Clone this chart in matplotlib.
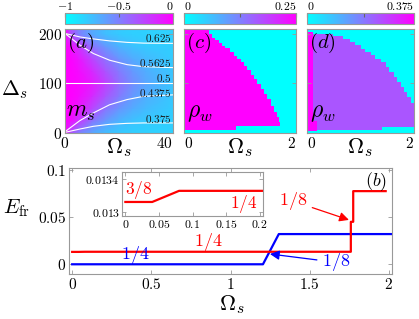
import matplotlib
matplotlib.use("Agg")
import matplotlib.pyplot as plt
from matplotlib import cm
from matplotlib.colors import Normalize

plt.rcParams["mathtext.fontset"] = "cm"
plt.rcParams["font.family"] = "serif"

W, H = 419.0, 319.0
GRAY = "0.6"
cmap = plt.get_cmap("cool")

# ---- panel (a): m_s read on a coarse (Delta_s, Omega_s) grid
omega_a = [0, 2, 5, 10, 15, 20, 25, 30, 40]
delta_a = [0, 25, 50, 75, 100, 125, 150, 175, 200, 210]
m_s = [
    [0, -0.30, -0.50, -0.66, -0.75, -0.79, -0.81, -0.82, -0.82],
    [0, -0.04, -0.20, -0.45, -0.60, -0.70, -0.76, -0.79, -0.81],
    [0, -0.01, -0.08, -0.27, -0.45, -0.58, -0.67, -0.73, -0.80],
    [0, 0.00, -0.04, -0.16, -0.33, -0.48, -0.60, -0.68, -0.78],
    [0, 0.00, -0.02, -0.10, -0.25, -0.42, -0.55, -0.65, -0.77],
    [0, 0.00, -0.04, -0.16, -0.33, -0.48, -0.60, -0.68, -0.78],
    [0, -0.01, -0.08, -0.27, -0.45, -0.58, -0.67, -0.73, -0.80],
    [0, -0.04, -0.20, -0.45, -0.60, -0.70, -0.76, -0.79, -0.81],
    [0, -0.30, -0.50, -0.66, -0.75, -0.79, -0.81, -0.82, -0.82],
    [0, -0.30, -0.50, -0.66, -0.75, -0.79, -0.81, -0.82, -0.82],
]

# white contour lines in (a)
omega_cont = [0, 5.5, 10.5, 16.5, 23, 29, 40]
cont_lines = [
    [201, 194, 190, 186, 183, 181.5, 181],      # 0.625
    [201, 177.5, 160.5, 147, 138, 134, 132],    # 0.5625
    [100, 100, 100, 100, 100, 100, 100],        # 0.5
    [2.6, 25, 40.5, 57, 67.5, 74, 77],          # 0.4375
    [1.3, 8, 13.5, 17.5, 19.5, 20.3, 20.3],     # 0.375
]
cont_labels = ["0.625", "0.5625", "0.5", "0.4375", "0.375"]
cont_label_delta = [192, 141, 112, 81, 28]

# ---- panel (c): rho_w, magenta region (rho_w = 0.25), cyan elsewhere
omega_c = [0, 0.45, 0.498, 0.559, 0.619, 0.679, 0.739, 0.829, 0.889, 0.93, 0.949,
           1.009, 1.069, 1.129, 1.189, 1.249, 1.309, 1.369, 1.429, 1.489, 1.55,
           1.61, 1.658, 1.688, 1.72]
top_c = [210, 200, 191, 187.6, 180.9, 176.1, 170.7, 163.9, 155.8, 155.8, 150.4,
         143.6, 135.5, 126.7, 117.9, 109.7, 99.6, 89.4, 79.3, 67.7, 55.5,
         43.4, 31.8, 21.7, 21.7]
bottom_c = [6, 6, 6, 6, 6, 6, 6, 6, 6, 15, 15,
            15, 15, 15, 15, 15, 15, 15, 15, 15, 15,
            15, 15, 15, 15]

# ---- panel (d): rho_w, purple region (0.25), magenta strip (0.375)
omega_d = [0.12, 0.49, 0.68, 0.81, 0.90, 1.00, 1.09, 1.19, 1.28, 1.38, 1.40,
           1.47, 1.53, 1.62, 1.69, 1.75, 1.81, 1.87, 1.94, 2.0]
top_d = [200, 195, 189, 184, 177, 170, 164, 157, 150, 143, 143,
         133, 123, 113, 103, 92, 82, 72, 61, 61]
bottom_d = [6, 6, 6, 6, 6, 6, 6, 6, 6, 6, 12, 12, 12, 12, 12, 12, 12, 12, 12, 12]
omega_strip = [0, 0.12, 0.18]
top_strip = [203, 25, 25]
bottom_strip = [5, 5, 5]

# ---- panel (b): E_fr against Omega_s
red_omega = [0, 0.04, 0.08, 1.76, 1.76, 1.775, 1.775, 1.98]
red_e = [0.013119, 0.013119, 0.013253, 0.013253, 0.045, 0.045, 0.0775, 0.0775]
blue_omega = [0, 1.205, 1.305, 2.05]
blue_e = [0, 0, 0.032, 0.032]


def box(x0, y0, x1, y1):
    return [x0 / W, 1 - y1 / H, (x1 - x0) / W, (y1 - y0) / H]


def style(ax, size):
    for s in ax.spines.values():
        s.set_edgecolor(GRAY)
    ax.tick_params(direction="in", length=3, width=0.6, color=GRAY,
                   labelsize=size, pad=2, top=True, right=True)


def colorbar(rect, vmin, vmax, ticks, labels, has):
    cax = fig.add_axes(rect)
    sm = cm.ScalarMappable(norm=Normalize(vmin, vmax), cmap=cmap)
    cb = fig.colorbar(sm, cax=cax, orientation="horizontal")
    cax.xaxis.set_ticks_position("top")
    cb.set_ticks(ticks)
    cb.set_ticklabels(labels)
    cb.outline.set_edgecolor(GRAY)
    cax.tick_params(direction="in", length=3, color="0.4", labelsize=8.5, pad=0.2)
    for t, ha in zip(cax.get_xticklabels(), has):
        t.set_ha(ha)


fig = plt.figure(figsize=(4.19, 3.19), dpi=100)

# (a)
ax_a = fig.add_axes(box(65, 29, 173, 133))
ax_a.pcolormesh(omega_a, delta_a, m_s, shading="gouraud", cmap=cmap, vmin=-1, vmax=0)
for d_line, lab, ly in zip(cont_lines, cont_labels, cont_label_delta):
    ax_a.plot(omega_cont, d_line, color="white", lw=0.8)
    ax_a.text(39.5, ly, "$%s$" % lab, fontsize=8, ha="right", va="center", color="0.1")
ax_a.set_xlim(0, 40)
ax_a.set_ylim(0, 210)
ax_a.set_xticks([0, 40])
ax_a.set_xticklabels(["$0$", "$40$"])
ax_a.set_yticks([0, 100, 200])
ax_a.set_yticklabels(["$0$", "$100$", "$200$"])
style(ax_a, 11)
ax_a.get_xticklabels()[1].set_ha("right")
ax_a.text(0.02, 0.98, "$(a)$", transform=ax_a.transAxes, fontsize=15, va="top")
ax_a.text(0.01, 0.15, "$m_s$", transform=ax_a.transAxes, fontsize=17, va="baseline")

# (c)
ax_c = fig.add_axes(box(184, 29, 296, 133))
ax_c.set_facecolor(cmap(0.0))
ax_c.fill_between(omega_c, bottom_c, top_c, step="post", color=cmap(1.0), lw=0)
ax_c.text(0.02, 0.98, "$(c)$", transform=ax_c.transAxes, fontsize=15, va="top")
ax_c.text(0.03, 0.15, r"$\rho_w$", transform=ax_c.transAxes, fontsize=17, va="baseline")

# (d)
ax_d = fig.add_axes(box(307, 29, 414, 133))
ax_d.set_facecolor(cmap(0.0))
ax_d.fill_between(omega_d, bottom_d, top_d, step="post", color=cmap(0.25 / 0.375), lw=0)
ax_d.fill_between(omega_strip, bottom_strip, top_strip, step="post", color=cmap(1.0), lw=0)
ax_d.text(0.02, 0.98, "$(d)$", transform=ax_d.transAxes, fontsize=15, va="top")
ax_d.text(0.03, 0.15, r"$\rho_w$", transform=ax_d.transAxes, fontsize=17, va="baseline")

for ax in (ax_c, ax_d):
    ax.set_xlim(0, 2)
    ax.set_ylim(0, 210)
    ax.set_xticks([0, 2])
    ax.set_xticklabels(["$0$", "$2$"])
    ax.set_yticks([0, 100, 200])
    ax.set_yticklabels([])
    style(ax, 11)
    ax.get_xticklabels()[0].set_ha("left")
    ax.get_xticklabels()[1].set_ha("right")

colorbar(box(65, 13, 173, 24), -1, 0, [-1, -0.5, 0], ["$-1$", "$-0.5$", "$0$"],
         ["center", "center", "right"])
colorbar(box(184, 13, 296, 24), 0, 0.25, [0, 0.125, 0.25], ["$0$", "", "$0.25$"],
         ["left", "center", "right"])
colorbar(box(307, 13, 414, 24), 0, 0.375, [0, 0.2, 0.375], ["$0$", "", "$0.375$"],
         ["left", "center", "right"])

fig.text(15 / W, 1 - 90 / H, r"$\Delta_s$", fontsize=15.5, ha="center", va="center")
for xc in (119, 240, 360):
    fig.text(xc / W, 1 - 148 / H, r"$\Omega_s$", fontsize=16, ha="center", va="center")

# (b)
ax_b = fig.add_axes(box(69, 168, 392, 274))
ax_b.plot(blue_omega, blue_e, color="b", lw=1.6)
ax_b.plot(red_omega, red_e, color="r", lw=1.6)
ax_b.set_xlim(-0.02, 2.02)
ax_b.set_ylim(-0.0103, 0.102)
ax_b.set_xticks([0, 0.5, 1, 1.5, 2])
ax_b.set_xticklabels(["$0$", "$0.5$", "$1$", "$1.5$", "$2$"])
ax_b.set_yticks([0, 0.05, 0.1])
ax_b.set_yticklabels(["$0$", "$0.05$", "$0.1$"])
style(ax_b, 11)
ax_b.annotate("$1/8$", xy=(1.748, 0.047), xytext=(1.393, 0.067), color="r",
              fontsize=13, ha="center", va="center",
              arrowprops=dict(arrowstyle="-|>", color="r", lw=0.9, mutation_scale=14,
                              shrinkA=2, shrinkB=0))
ax_b.annotate("$1/8$", xy=(1.249, 0.0109), xytext=(1.67, 0.002), color="b",
              fontsize=13, ha="center", va="center",
              arrowprops=dict(arrowstyle="-|>", color="b", lw=0.9, mutation_scale=14,
                              shrinkA=2, shrinkB=0))
ax_b.text(0.858, 0.0233, "$1/4$", color="r", fontsize=13, ha="center", va="center")
ax_b.text(0.397, 0.0098, "$1/4$", color="b", fontsize=13, ha="center", va="center")
ax_b.text(1.916, 0.088, "$(b)$", fontsize=13, ha="center", va="center")

fig.text(17 / W, 1 - 208 / H, r"$E_{\mathrm{fr}}$", fontsize=15, ha="center", va="center")
fig.text(232 / W, 1 - 305 / H, r"$\Omega_s$", fontsize=16, ha="center", va="center")

# inset of (b)
ax_in = fig.add_axes(box(122, 172, 263, 216))
ax_in.plot(red_omega, red_e, color="r", lw=1.6)
ax_in.set_xlim(-0.005, 0.205)
ax_in.set_ylim(0.01295, 0.01348)
ax_in.set_xticks([0, 0.05, 0.1, 0.15, 0.2])
ax_in.set_xticklabels(["$0$", "$0.05$", "$0.1$", "$0.15$", "$0.2$"])
ax_in.set_yticks([0.013, 0.0134])
ax_in.set_yticklabels(["$0.013$", "$0.0134$"])
style(ax_in, 8.5)
ax_in.tick_params(pad=1.5)
ax_in.text(0.0, 0.013266, "$3/8$", color="r", fontsize=12.5, ha="left", va="center")
ax_in.text(0.1766, 0.01309, "$1/4$", color="r", fontsize=12.5, ha="center", va="center")

fig.savefig("out.png", dpi=100)
